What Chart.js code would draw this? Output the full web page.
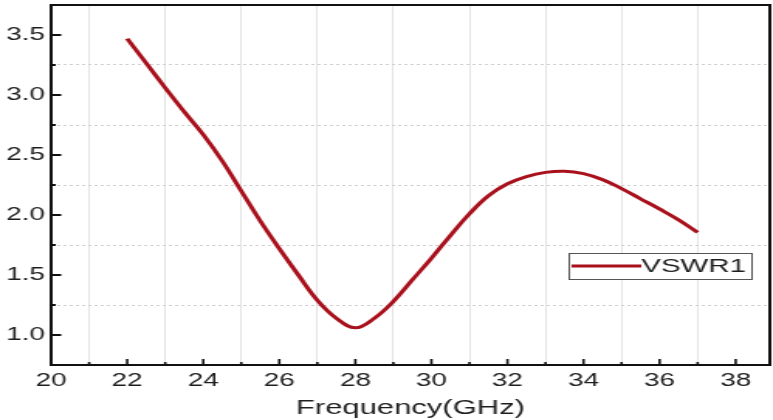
<!DOCTYPE html>
<html>
<head>
<meta charset="utf-8">
<script src="https://cdn.jsdelivr.net/npm/chart.js@4.4.0/dist/chart.umd.min.js"></script>
<style>
    html, body { margin: 0; padding: 0; background: #fff; overflow: hidden; }
    /* plot is laid out narrow, then stretched sideways */
    #wrap { width: 499px; height: 420px; transform: scaleX(1.549); transform-origin: 0 0; }
</style>
</head>
<body>
<div id="wrap"><canvas id="chart"></canvas></div>
<script>
// VSWR vs frequency
let freqs = [22, 22.5, 23, 23.5, 24, 24.5, 25, 25.5, 26, 26.5, 27, 27.5, 28,
             28.5, 29, 29.5, 30, 30.5, 31, 31.5, 32, 32.5, 33, 33.5, 34, 34.5,
             35, 35.5, 36, 36.5, 37];
let vswr = [3.47, 3.265, 3.06, 2.86, 2.67, 2.45, 2.20, 1.95, 1.72, 1.50, 1.29, 1.14, 1.06,
            1.14, 1.28, 1.46, 1.64, 1.83, 2.01, 2.16, 2.26, 2.32, 2.355, 2.365, 2.345, 2.295,
            2.22, 2.135, 2.05, 1.96, 1.855];
let seriesName = 'VSWR1';
let xTitle = 'Frequency(GHz)';
let xMajor = [20, 22, 24, 26, 28, 30, 32, 34, 36, 38];
let yMajor = [1.0, 1.5, 2.0, 2.5, 3.0, 3.5];

const lineColor = '#a8101c';
const textColor = '#1e1e1e';
const fontFamily = '"Liberation Sans", Arial, sans-serif';

let points = [];
for (let i = 0; i < freqs.length; i++) {
    points.push({ x: freqs[i], y: vswr[i] });
}

// frame, inward tick marks and the boxed legend
const framePlugin = {
    id: 'frame',
    afterDraw: function(chart) {
        const ctx = chart.ctx;
        const area = chart.chartArea;
        const xs = chart.scales.x;
        const ys = chart.scales.y;
        ctx.save();

        ctx.strokeStyle = '#111';
        ctx.lineWidth = 1.6;
        for (let v = 20; v <= 38; v++) {
            let px = xs.getPixelForValue(v);
            let len = xMajor.includes(v) ? 6 : 3;
            ctx.beginPath();
            ctx.moveTo(px, area.bottom);
            ctx.lineTo(px, area.bottom - len);
            ctx.stroke();
        }
        ctx.lineWidth = 2;
        for (let v = 1.0; v <= 3.5001; v += 0.25) {
            let py = ys.getPixelForValue(v);
            let major = yMajor.some(m => Math.abs(m - v) < 1e-6);
            let len = major ? 6.5 : 3;
            ctx.beginPath();
            ctx.moveTo(area.left, py);
            ctx.lineTo(area.left + len, py);
            ctx.stroke();
        }

        ctx.lineWidth = 2;
        ctx.strokeRect(area.left, area.top, area.right - area.left, area.bottom - area.top);

        // legend
        let ds = chart.data.datasets[0];
        let bx = area.right - 130;
        let by = area.top + 248;
        let bw = 118;
        let bh = 26;
        ctx.fillStyle = '#fff';
        ctx.fillRect(bx, by, bw, bh);
        ctx.strokeStyle = '#555';
        ctx.lineWidth = 1;
        ctx.strokeRect(bx + 0.5, by + 0.5, bw, bh);
        ctx.strokeStyle = ds.borderColor;
        ctx.lineWidth = 3;
        ctx.beginPath();
        ctx.moveTo(bx + 2, by + bh / 2);
        ctx.lineTo(bx + 47, by + bh / 2);
        ctx.stroke();
        ctx.fillStyle = textColor;
        ctx.font = '19px ' + fontFamily;
        ctx.textBaseline = 'middle';
        ctx.fillText(ds.label, bx + 47, by + bh / 2 + 1);

        ctx.restore();
    }
};

new Chart(document.getElementById('chart'), {
    type: 'line',
    data: {
        datasets: [{
            label: seriesName,
            data: points,
            borderColor: lineColor,
            borderWidth: 3,
            pointRadius: 0,
            fill: false,
            tension: 0.4
        }]
    },
    options: {
        responsive: true,
        maintainAspectRatio: false,
        animation: false,
        layout: { padding: { top: 5, right: 2, left: 0, bottom: 0 } },
        plugins: {
            legend: { display: false },
            tooltip: { enabled: false }
        },
        scales: {
            x: {
                type: 'linear',
                min: 20,
                max: 38.9,
                afterFit: function(scale) {
                    scale.height = 55;
                    scale.paddingLeft = 0;
                    scale.paddingRight = 0;
                },
                border: { display: false },
                grid: {
                    drawTicks: false,
                    lineWidth: 1,
                    color: function(c) {
                        let v = c.tick.value;
                        return (Number.isInteger(v) && v % 2 === 1) ? '#e4e4e4' : 'rgba(0,0,0,0)';
                    }
                },
                ticks: {
                    stepSize: 1,
                    includeBounds: false,
                    autoSkip: false,
                    maxRotation: 0,
                    padding: 5,
                    color: textColor,
                    font: { family: fontFamily, size: 18 },
                    callback: function(v) {
                        return xMajor.includes(v) ? String(v) : '';
                    }
                },
                title: {
                    display: true,
                    text: xTitle,
                    color: textColor,
                    font: { family: fontFamily, size: 20 },
                    padding: { top: 2, bottom: 0 }
                }
            },
            y: {
                type: 'linear',
                min: 0.75,
                max: 3.75,
                afterFit: function(scale) {
                    scale.width = 33;
                    scale.paddingTop = 0;
                    scale.paddingBottom = 0;
                },
                border: { display: false, dash: [2, 2] },
                grid: {
                    drawTicks: false,
                    lineWidth: 1,
                    color: function(c) {
                        let v = c.tick.value;
                        let q = Math.round(v * 4);
                        if (v <= 0.75 || v >= 3.75) return 'rgba(0,0,0,0)';
                        return (q % 2 === 1) ? '#cfcfcf' : 'rgba(0,0,0,0)';
                    }
                },
                ticks: {
                    stepSize: 0.25,
                    autoSkip: false,
                    padding: 4,
                    color: textColor,
                    font: { family: fontFamily, size: 18 },
                    callback: function(v) {
                        return yMajor.some(m => Math.abs(m - v) < 1e-6) ? v.toFixed(1) : '';
                    }
                }
            }
        }
    },
    plugins: [framePlugin]
});
</script>
</body>
</html>
